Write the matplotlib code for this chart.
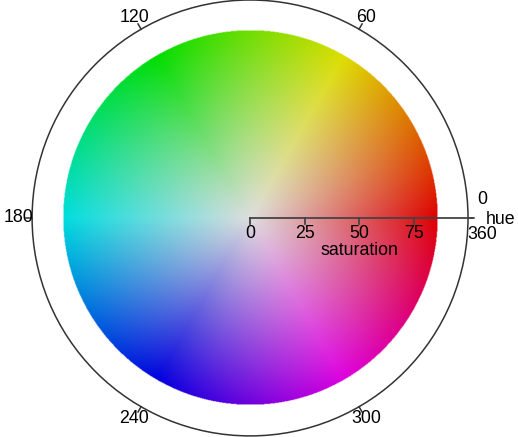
import numpy as np
import matplotlib
matplotlib.use("Agg")
import matplotlib.pyplot as plt
from matplotlib.colors import hsv_to_rgb
from matplotlib.patches import Circle

# axis values
hue_ticks = [0, 60, 120, 180, 240, 300]
sat_ticks = [0, 25, 50, 75]
sat_max = 86      # outer edge of the coloured disk
sat_lim = 100     # outer circle
value = 0.87      # brightness of the wheel

plt.rcParams['font.family'] = ['Liberation Sans', 'DejaVu Sans']
LINE = '#333333'
FS = 12.8

fig = plt.figure(figsize=(5.18, 4.37), dpi=100)
ax = fig.add_axes([0, 0, 1, 1])
ax.set_xlim(-114.7, 122.9)
ax.set_ylim(-100.5, 100.0)
ax.set_aspect('equal')
ax.axis('off')

# colour disk: hue = angle, saturation = radius
n = 700
g = np.linspace(-sat_max, sat_max, n)
xx, yy = np.meshgrid(g, g[::-1])
rr = np.hypot(xx, yy)
hh = (np.degrees(np.arctan2(yy, xx)) % 360) / 360.0
ss = np.clip(rr / sat_max, 0, 1)
hsv = np.dstack([hh, ss, np.full_like(ss, value)])
rgb = hsv_to_rgb(hsv)
alpha = (rr <= sat_max).astype(float)
img = np.dstack([rgb, alpha])
ax.imshow(img, extent=[-sat_max, sat_max, -sat_max, sat_max], interpolation='bilinear', zorder=1)

# outer hue circle
ax.add_patch(Circle((0, 0), sat_lim, fill=False, lw=1.1, color=LINE, zorder=3))
for h in hue_ticks:
    a = np.radians(h)
    ax.plot([sat_lim * np.cos(a), 102.8 * np.cos(a)],
            [sat_lim * np.sin(a), 102.8 * np.sin(a)], color=LINE, lw=1.1, zorder=3)
    if h == 0:
        ax.text(106.4, 8.3, '0', ha='center', va='center', fontsize=FS)
        ax.text(106.4, -7.8, '360', ha='center', va='center', fontsize=FS)
    else:
        ax.text(106.4 * np.cos(a), 106.4 * np.sin(a), str(h),
                ha='center', va='center', fontsize=FS, zorder=4)
ax.text(108.0, -0.8, 'hue', ha='left', va='center', fontsize=FS)

# saturation axis
ax.plot([0, 102.3], [0, 0], color='#444444', lw=1.3, zorder=3)
for s in sat_ticks:
    ax.plot([s, s], [0, -2.8], color='#444444', lw=1.3, zorder=3)
    ax.text(s, -7.0, str(s), ha='center', va='center', fontsize=FS, zorder=4)
ax.text(50, -14.8, 'saturation', ha='center', va='center', fontsize=FS, zorder=4)

fig.savefig('out.png', dpi=100)
